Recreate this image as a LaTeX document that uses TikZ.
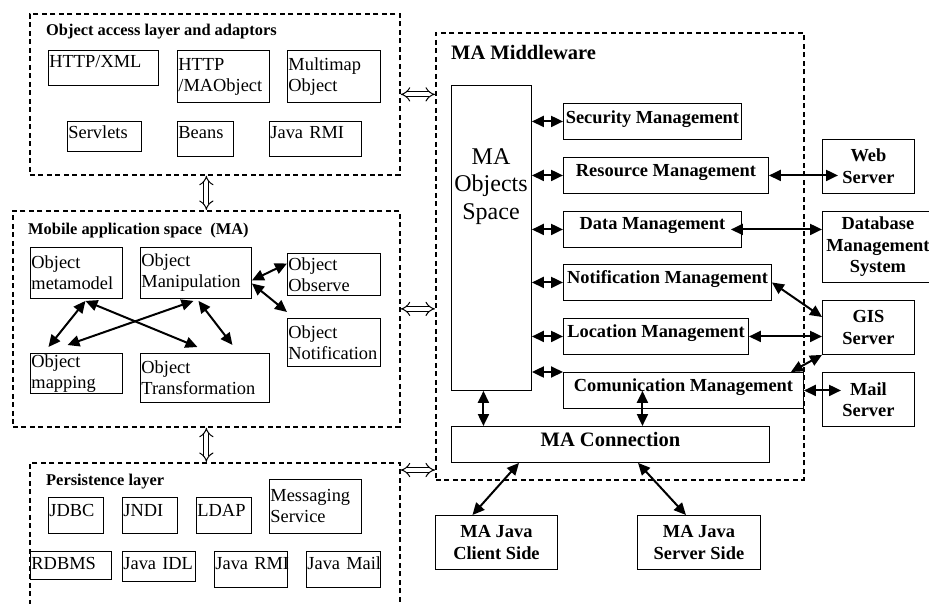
\documentclass[tikz,border=0pt]{standalone}
\usepackage{fontspec}
\setmainfont{Liberation Serif}
\usetikzlibrary{arrows.meta}
\tikzset{lay/.style={draw,dash pattern=on 5pt off 3.5pt,line width=1.7pt,anchor=north west,inner sep=0pt}}
\tikzset{blk/.style={draw,line width=0.9pt,anchor=north west,inner xsep=1pt,inner ysep=0pt,align=left,font=\fontsize{18.4}{21}\selectfont}}
\tikzset{mgt/.style={draw,line width=0.9pt,anchor=north west,inner xsep=1pt,inner ysep=0pt,align=center,font=\bfseries\fontsize{18.4}{21.5}\selectfont}}
\tikzset{ttl/.style={anchor=base west,inner sep=0pt,font=\bfseries\fontsize{16.4}{19}\selectfont}}
\tikzset{bi/.style={<->,line width=2pt}}
\tikzset{hol/.style={double,double distance=4pt,line width=1pt,Implies-Implies}}

\begin{document}
\begin{tikzpicture}[>={Triangle[length=12pt,width=11pt]},x=1pt,y=-1pt]
        \useasboundingbox (0,0) rectangle (929,603);
        % dashed layers
        \node[lay,minimum width=370pt,minimum height=161pt] (access) at (29,13) {};
        \node[lay,minimum width=387pt,minimum height=216pt] (mas) at (12,210) {};
        \node[lay,minimum width=370pt,minimum height=160pt] (persist) at (29,462) {};
        \node[lay,minimum width=368pt,minimum height=447pt] (mw) at (435,32) {};

        \node[ttl] (tacc) at (46,35) {Object access layer and adaptors};
        \node[ttl] (tmas) at (28,234) {Mobile application space~~(MA)};
        \node[ttl] (tper) at (46,485) {Persistence layer};
        \node[ttl,font=\bfseries\fontsize{20.5}{24}\selectfont] (tmw) at (451,59) {MA Middleware};

        % object access layer
        \node[blk,text width=108pt,text height=17pt,text depth=18pt] (http) at (48,50) {HTTP/XML};
        \node[blk,text width=90pt,minimum height=52pt] (httpma) at (177,50) {HTTP\\/MAObject};
        \node[blk,text width=91pt,minimum height=52pt] (multi) at (287,50) {Multimap\\Object};
        \node[blk,text width=72pt,text height=17pt,text depth=13pt] (servlet) at (67,121) {Servlets};
        \node[blk,text width=54pt,text height=17pt,text depth=18pt] (beans) at (177,121) {Beans};
        \node[blk,text width=90pt,text height=17pt,text depth=18pt] (rmia) at (269,121) {Java~RMI};

        % mobile application space
        \node[blk,text width=90pt,minimum height=51pt] (meta) at (30,247) {Object\\metamodel};
        \node[blk,text width=109pt,minimum height=51pt] (manip) at (140,247) {Object\\Manipulation};
        \node[blk,text width=91pt,minimum height=42pt] (observe) at (287,253) {Object\\Observe};
        \node[blk,text width=91pt,minimum height=48pt] (notif) at (287,318) {Object\\Notification};
        \node[blk,text width=90pt,minimum height=40pt] (mapping) at (30,353) {Object\\mapping};
        \node[blk,text width=127pt,minimum height=49pt] (transf) at (140,353) {Object\\Transformation};

        % persistence layer
        \node[blk,text width=53pt,text height=19pt,text depth=17pt] (jdbc) at (48,497) {JDBC};
        \node[blk,text width=53pt,text height=19pt,text depth=17pt] (jndi) at (122,497) {JNDI};
        \node[blk,text width=53pt,text height=19pt,text depth=17pt] (ldap) at (196,497) {LDAP};
        \node[blk,text width=90pt,minimum height=54pt] (msg) at (269,479) {Messaging\\Service};
        \node[blk,text width=79pt,text height=18pt,text depth=10pt] (rdbms) at (30,551) {RDBMS};
        \node[blk,text width=71pt,text height=18pt,text depth=12pt] (idl) at (122,551) {Java~IDL};
        \node[blk,text width=71pt,text height=18pt,text depth=18pt] (rmip) at (214,551) {Java~RMI};
        \node[blk,text width=72pt,text height=18pt,text depth=18pt] (jmail) at (306,551) {Java~Mail};

        % middleware
        \node[blk,minimum width=80pt,minimum height=305pt] (space) at (451,85) {};
        \node[anchor=north,inner sep=0pt,align=center,font=\fontsize{24}{27.5}\selectfont] (spacetxt) at (491,148) {MA\\Objects\\Space};
        \node[mgt,minimum width=178pt,text height=20pt,text depth=16pt] (sec) at (563,103) {Security Management};
        \node[mgt,minimum width=205pt,text height=19pt,text depth=17pt] (res) at (563,157) {Resource Management};
        \node[mgt,minimum width=178pt,text height=18pt,text depth=18pt] (data) at (563,211) {Data Management};
        \node[mgt,minimum width=208pt,text height=19pt,text depth=17pt] (notm) at (563,264) {Notification Management};
        \node[mgt,minimum width=185pt,text height=19pt,text depth=17pt] (loc) at (563,318) {Location Management};
        \node[mgt,minimum width=240pt,text height=19pt,text depth=17pt] (comm) at (563,372) {Comunication Management};
        \node[mgt,minimum width=318pt,text height=20pt,text depth=16pt,font=\bfseries\fontsize{20.5}{24}\selectfont] (conn) at (451,426) {MA Connection};
        \node[mgt,minimum width=122pt,minimum height=54pt] (client) at (435,515) {MA Java\\Client Side};
        \node[mgt,minimum width=123pt,minimum height=54pt] (server) at (637,515) {MA Java\\Server Side};

        % outside
        \node[mgt,minimum width=92pt,minimum height=54pt] (web) at (822,139) {Web\\Server};
        \node[mgt,minimum width=111pt,minimum height=71pt] (dbms) at (822,211) {Database\\Management\\System};
        \node[mgt,minimum width=92pt,minimum height=54pt] (gis) at (822,300) {GIS\\Server};
        \node[mgt,minimum width=92pt,minimum height=54pt] (mailsrv) at (822,372) {Mail\\Server};

        % hollow arrows between layers
        \draw[hol] (mas.north |- access.south) -- (mas.north);
        \draw[hol] (mas.south) -- (mas.south |- persist.north);
        \draw[hol] (access.east) -- (access.east -| mw.west);
        \draw[hol] ([yshift=10pt]mas.east) -- ([yshift=10pt]mas.east -| mw.west);
        \draw[hol] ([yshift=-8pt]persist.north east) -- ([yshift=-8pt]persist.north east -| mw.west);

        % inside MA
        \draw[bi] ([shift={(9pt,-2pt)}]meta.south) -- ([shift={(-28pt,6pt)}]mapping.north);
        \draw[bi] ([shift={(9pt,-2pt)}]meta.south) -- ([shift={(-7.5pt,6pt)}]transf.north);
        \draw[bi] ([shift={(-2.5pt,-2pt)}]manip.south) -- ([shift={(-9pt,8pt)}]mapping.north);
        \draw[bi] ([shift={(2.5pt,-2pt)}]manip.south) -- ([shift={(27.5pt,8pt)}]transf.north);
        \draw[bi] ([yshift=-7.5pt]manip.east) -- ([yshift=11pt]observe.west);
        \draw[bi] ([yshift=-10.5pt]manip.east) -- ([yshift=6pt]notif.north west);

        % middleware
        \draw[bi] (space.east |- sec.west) -- (sec.west);
        \draw[bi] (space.east |- res.west) -- (res.west);
        \draw[bi] (space.east |- data.west) -- (data.west);
        \draw[bi] (space.east |- notm.west) -- (notm.west);
        \draw[bi] (space.east |- loc.west) -- (loc.west);
        \draw[bi] (space.east |- comm.north west) -- (comm.north west);
        \draw[bi] ([xshift=-8pt]space.south) -- ([xshift=-8pt]space.south |- conn.north);
        \draw[bi] ([shift={(-41pt,18pt)}]comm.south) -- ([xshift=-41pt]comm.south |- conn.north);
        \draw[bi] ([xshift=68pt]conn.south west) -- ([xshift=-24pt]client.north);
        \draw[bi] ([xshift=187pt]conn.south west) -- ([xshift=-13pt]server.north);
        \draw[bi] (res.east) -- ([xshift=16pt]res.east -| web.west);
        \draw[bi] ([xshift=-11pt]data.east) -- (data.east -| dbms.west);
        \draw[bi] (notm.east) -- ([yshift=-17pt]gis.north west);
        \draw[bi] (loc.east) -- (loc.east -| gis.west);
        \draw[bi] ([xshift=-13pt]comm.north east) -- (gis.south west);
        \draw[bi] (comm.east) -- ([xshift=19pt]comm.east -| mailsrv.west);
\end{tikzpicture}
\end{document}
